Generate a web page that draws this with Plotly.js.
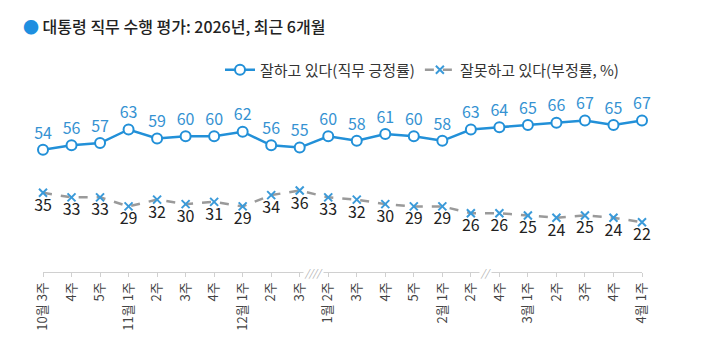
<!DOCTYPE html>
<html>
<head>
<meta charset="utf-8">
<script src="https://cdn.plot.ly/plotly-3.0.1.min.js"></script>
<style>html,body{margin:0;padding:0;background:#fff;}#chart{width:720px;height:360px;}</style>
</head>
<body>
<div id="chart"></div>
<script>
const categories = ["10월 3주","4주","5주","11월 1주","2주","3주","4주","12월 1주","2주","3주",
  "1월 2주","3주","4주","5주","2월 1주","2주","4주","3월 1주","2주","3주","4주","4월 1주"];
const approve = [54,56,57,63,59,60,60,62,56,55,60,58,61,60,58,63,64,65,66,67,65,67];
const disapprove = [35,33,33,29,32,30,31,29,34,36,33,32,30,29,29,26,26,25,24,25,24,22];
const breakMarks = [{after: 9, text: "////"}, {after: 15, text: "//"}];

const xIdx = categories.map((_, i) => i);
const FONT = '"Noto Sans CJK KR", "Noto Sans", sans-serif';
const BLUE = '#2290d8';

const traces = [
  {
    x: xIdx, y: approve, name: '잘하고 있다(직무 긍정률)',
    type: 'scatter', mode: 'lines+markers+text',
    text: approve.map(String), textposition: 'top center',
    textfont: {family: FONT, size: 16, color: '#3592d2'},
    line: {color: BLUE, width: 2.5},
    marker: {symbol: 'circle', size: 10, color: '#fff', line: {color: BLUE, width: 2}},
    cliponaxis: false, hoverinfo: 'skip'
  },
  {
    x: xIdx, y: disapprove, name: '잘못하고 있다(부정률, %)',
    type: 'scatter', mode: 'lines+markers+text',
    text: disapprove.map(String), textposition: 'bottom center',
    textfont: {family: FONT, size: 16, color: '#222'},
    line: {color: '#9a9a9a', width: 2.5, dash: 'dash'},
    marker: {symbol: 'x-thin', size: 8, color: '#3a9ad9', line: {color: '#3a9ad9', width: 2}},
    cliponaxis: false, hoverinfo: 'skip'
  }
];

const annotations = breakMarks.map(b => ({
  x: b.after + 0.5, y: 0, xref: 'x', yref: 'y',
  text: '<i>' + b.text + '</i>', showarrow: false,
  font: {family: FONT, size: 10, color: '#aaa'},
  bgcolor: '#fff', borderpad: 0
}));

const layout = {
  width: 720, height: 360,
  paper_bgcolor: '#fff', plot_bgcolor: '#fff',
  margin: {l: 43, r: 78, t: 76, b: 88},
  font: {family: FONT},
  title: {
    text: '<span style="color:#1e8fe0">●</span> 대통령 직무 수행 평가: 2026년, 최근 6개월',
    xref: 'container', yref: 'container',
    x: 23/720, xanchor: 'left', y: 1 - 27/360, yanchor: 'middle',
    font: {family: FONT, size: 16, color: '#222', weight: 500}
  },
  showlegend: true,
  legend: {
    orientation: 'h', xref: 'container', yref: 'container',
    x: 220/720, xanchor: 'left', y: 1 - 70/360, yanchor: 'middle',
    font: {family: FONT, size: 15, color: '#333'},
    bgcolor: 'rgba(0,0,0,0)', itemwidth: 30
  },
  xaxis: {
    range: [0, 21], tickmode: 'array', tickvals: xIdx, ticktext: categories,
    tickangle: -90, showgrid: false, zeroline: false,
    showline: true, linecolor: '#d0d0d0', linewidth: 1,
    ticks: 'outside', ticklen: 4, tickcolor: '#d0d0d0',
    tickfont: {family: FONT, size: 13, color: '#444'}
  },
  yaxis: {
    range: [0, 82], visible: false, showgrid: false, zeroline: false
  },
  annotations: annotations
};

Plotly.newPlot('chart', traces, layout, {displayModeBar: false, staticPlot: true});
</script>
</body>
</html>
